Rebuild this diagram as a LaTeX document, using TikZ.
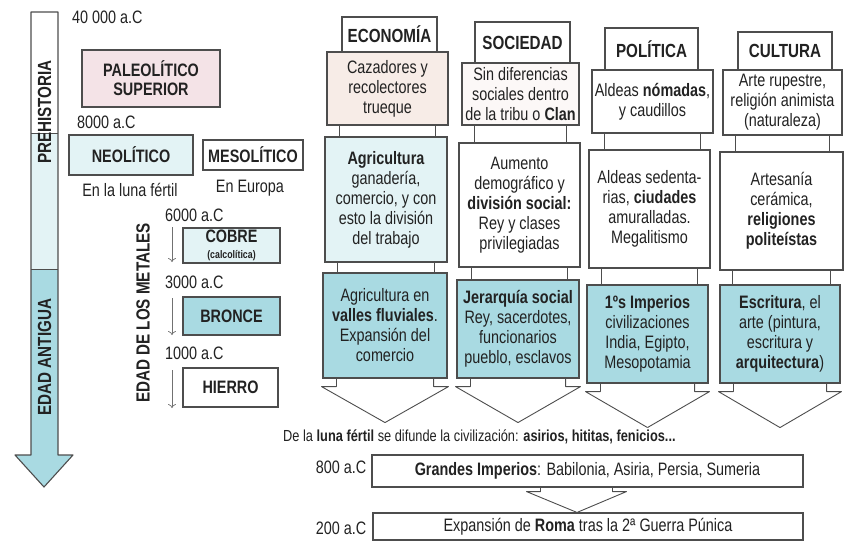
\documentclass[tikz,border=0pt]{standalone}
\usepackage{fontspec}
\setmainfont{Liberation Sans}[FakeStretch=0.8]
\usetikzlibrary{arrows.meta}
\definecolor{ink}{HTML}{222222}
\definecolor{edge}{HTML}{4D4D4D}
\definecolor{cyanbox}{HTML}{A9DAE2}
\definecolor{paleblue}{HTML}{E3F3F5}
\definecolor{pinkbox}{HTML}{F4E3E7}
\definecolor{beigebox}{HTML}{F7ECE7}
\definecolor{whitebox}{HTML}{FCF8F7}
\tikzset{
  box/.style={draw=edge,line width=1.1pt,inner sep=0pt,align=center,text=ink},
  body/.style={box,font=\fontsize{18}{20}\selectfont},
  hdr/.style={box,fill=white,font=\fontsize{19}{21}\selectfont\bfseries},
  era/.style={box,font=\fontsize{18}{19}\selectfont\bfseries},
  vlabel/.style={inner sep=0pt,rotate=90,text=ink,font=\fontsize{19}{21}\selectfont\bfseries},
  date/.style={inner sep=0pt,text=ink,font=\fontsize{18}{20}\selectfont},
  link/.style={draw=edge,line width=0.9pt,line join=round},
  tick/.style={draw=edge!80,line width=0.7pt,-{To[length=4pt,width=8pt]}},
}

\begin{document}
\begin{tikzpicture}[x=1pt,y=-1pt]
	\useasboundingbox (0,0) rectangle (849,550);

	\fill[white] (31,12) rectangle (58,133);
	\fill[paleblue] (31,133) rectangle (58,269);
	\fill[cyanbox] (31,269) -- (31,455) -- (15,455) -- (44,487) -- (73,455) -- (58,455) -- (58,269) -- cycle;
	\draw[link,line width=1.1pt] (31,12) -- (31,455) -- (15,455) -- (44,487) -- (73,455) -- (58,455) -- (58,12) -- cycle;
	\draw[link] (31,133) -- (58,133) (31,269) -- (58,269);
	\node[vlabel] (prehist) at (44.5,112) {PREHISTORIA};
	\node[vlabel] (antigua) at (44.5,357) {EDAD ANTIGUA};

	\node[date,anchor=west] (d40000) at (72,17) {40 000 a.C};
	\node[era,fill=pinkbox,minimum width=138pt,minimum height=57pt] (paleo) at (151,78.5) {PALEOLÍTICO\\SUPERIOR};
	\node[date,anchor=west] (d8000) at (77,122) {8000 a.C};
	\node[era,fill=paleblue,minimum width=124pt,minimum height=40pt] (neo) at (131,155) {NEOLÍTICO};
	\node[era,fill=white,minimum width=100pt,minimum height=30pt] (meso) at (253,155) {MESOLÍTICO};
	\node[date] (luna) at (130,190) {En la luna fértil};
	\node[date] (europa) at (250,188) {En Europa};

	\node[vlabel] (metales) at (143,313) {EDAD DE LOS METALES};
	\node[date,anchor=west] (d6000) at (165,215) {6000 a.C};
	\node[era,fill=paleblue,minimum width=97pt,minimum height=35pt] (cobre) at (231.5,245.5) {COBRE\\[-3pt]{\fontsize{11}{12}\selectfont (calcolítica)}};
	\node[date,anchor=west] (d3000) at (165,282) {3000 a.C};
	\node[era,fill=cyanbox,minimum width=97pt,minimum height=38pt] (bronce) at (231.5,316) {BRONCE};
	\node[date,anchor=west] (d1000) at (165,353) {1000 a.C};
	\node[era,fill=white,minimum width=95pt,minimum height=39pt] (hierro) at (230.5,387.5) {HIERRO};
	\coordinate (t1a) at (172,227); \coordinate (t1b) at (172,262);
	\coordinate (t2a) at (172,298); \coordinate (t2b) at (172,335);
	\coordinate (t3a) at (172,370); \coordinate (t3b) at (172,408);
	\draw[tick] (t1a) -- (t1b);
	\draw[tick] (t2a) -- (t2b);
	\draw[tick] (t3a) -- (t3b);

	\node[hdr,minimum width=95pt,minimum height=35pt] (ecoh) at (389.5,34.5) {ECONOMÍA};
	\node[hdr,minimum width=95pt,minimum height=41pt] (soch) at (522.5,42.5) {SOCIEDAD};
	\node[hdr,minimum width=93pt,minimum height=42pt] (polh) at (651.5,49) {POLÍTICA};
	\node[hdr,minimum width=94pt,minimum height=38pt] (culh) at (785,51) {CULTURA};

	\node[body,fill=beigebox,minimum width=121pt,minimum height=73pt] (eco1) at (387.5,88.5) {Cazadores y\\recolectores\\trueque};
	\node[body,fill=paleblue,minimum width=122pt,minimum height=125pt] (eco2) at (386,199.5) {\textbf{Agricultura}\\ganadería,\\comercio, y con\\esto la división\\del trabajo};
	\node[body,fill=cyanbox,minimum width=124pt,minimum height=105pt] (eco3) at (385,325.5) {Agricultura en\\\textbf{valles fluviales}.\\Expansión del\\comercio};

	\node[body,fill=whitebox,minimum width=117pt,minimum height=62pt] (soc1) at (520.5,94) {Sin diferencias\\sociales dentro\\de la tribu o \textbf{Clan}};
	\node[body,fill=white,minimum width=121pt,minimum height=124pt] (soc2) at (519.5,205) {Aumento\\demográfico y\\\textbf{división social:}\\Rey y clases\\privilegiadas};
	\node[body,fill=cyanbox,minimum width=122pt,minimum height=98pt] (soc3) at (518,329) {\textbf{Jerarquía social}\\Rey, sacerdotes,\\funcionarios\\pueblo, esclavos};

	\node[body,fill=white,minimum width=121pt,minimum height=63pt] (pol1) at (652.5,101.5) {Aldeas \textbf{nómadas},\\y caudillos};
	\node[body,fill=white,minimum width=121pt,minimum height=118pt] (pol2) at (649.5,209) {Aldeas sedenta-\\rias, \textbf{ciudades}\\amuralladas.\\Megalitismo};
	\node[body,fill=cyanbox,minimum width=121pt,minimum height=98pt] (pol3) at (647.5,334) {\textbf{1ºs Imperios}\\civilizaciones\\India, Egipto,\\Mesopotamia};

	\node[body,fill=white,minimum width=119pt,minimum height=65pt] (cul1) at (782.5,102.5) {Arte rupestre,\\religión animista\\(naturaleza)};
	\node[body,fill=white,minimum width=123pt,minimum height=118pt] (cul2) at (781.5,211) {Artesanía\\cerámica,\\\textbf{religiones}\\\textbf{politeístas}};
	\node[body,fill=cyanbox,minimum width=120pt,minimum height=98pt] (cul3) at (780,334) {\textbf{Escritura}, el\\arte (pintura,\\escritura y\\\textbf{arquitectura})};

	\foreach \a/\b in {eco1/eco2,eco2/eco3,soc1/soc2,soc2/soc3,pol1/pol2,pol2/pol3,cul1/cul2,cul2/cul3} {
		\draw[link] ([xshift=13pt]\a.south west) -- ([xshift=13pt]\a.south west |- \b.north);
		\draw[link] ([xshift=-13pt]\a.south east) -- ([xshift=-13pt]\a.south east |- \b.north);
	}

	\foreach \c/\t in {eco3/tip1,soc3/tip2,pol3/tip3,cul3/tip4} {
		\coordinate (\t) at ([yshift=-44pt]\c.south);
		\draw[link] ([xshift=14pt]\c.south west) -- ++(0,8) -- ++(-15,0) -- (\t);
		\draw[link] ([xshift=-14pt]\c.south east) -- ++(0,8) -- ++(15,0) -- (\t);
	}

	\node[date,anchor=west,font=\fontsize{16}{18}\selectfont] (spread) at (283,437) {De la \textbf{luna fértil} se difunde la civilización: \textbf{asirios, hititas, fenicios...}};
	\node[date] (d800) at (341,467) {800 a.C};
	\node[body,fill=white,minimum width=431pt,minimum height=32pt] (grandes) at (587.5,471) {\textbf{Grandes Imperios}: Babilonia, Asiria, Persia, Sumeria};
	\node[date] (d200) at (341,528) {200 a.C};
	\node[body,fill=white,minimum width=430pt,minimum height=27pt] (roma) at (588,526.5) {Expansión de \textbf{Roma} tras la 2ª Guerra Púnica};
	\coordinate (tip5) at ([xshift=-11pt]roma.north);
	\draw[link] ([xshift=-47pt]grandes.south) -- ++(0,4) -- ++(-14,0) -- (tip5);
	\draw[link] ([xshift=25pt]grandes.south) -- ++(0,4) -- ++(14,0) -- (tip5);
\end{tikzpicture}
\end{document}
